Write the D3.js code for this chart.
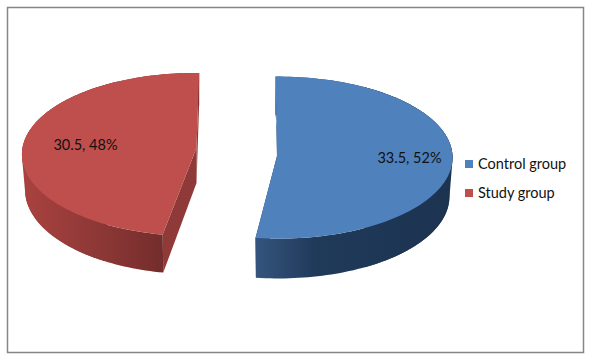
<!DOCTYPE html>
<html>
<head>
<meta charset="utf-8">
<script src="https://cdn.jsdelivr.net/npm/d3@7"></script>
<style>
html, body { margin: 0; padding: 0; background: #fff; }
svg { display: block; }
text { font-family: Lato, "Open Sans", sans-serif; }
</style>
</head>
<body>
<div id="plot"></div>
<script>
//Data
const categories = ['Control group', 'Study group'];
const values = [33.5, 30.5];
const percentLabels = ['52%', '48%'];

const w = 596, h = 364;
const plot = d3.select('#plot').append('svg').attr('width', w).attr('height', h);
const defs = plot.append('defs');

//Chart frame
plot.append('rect')
	.attr('x', 7.5).attr('y', 7.5)
	.attr('width', 576).attr('height', 345)
	.style('fill', '#fff')
	.style('stroke', '#868686')
	.style('stroke-width', 1.5);

//Slice geometry: each slice is exploded and has its own perspective
const layout = {
	'Control group': {cx: 278.5, cy: 156, rx: 174, ry: 81, p: 0.02, rot: -1, depth: 39, apexDx: -1.5, lowDx: 8, side: 90, labelX: 409.5, labelY: 163,
		top: '#4F81BD', cut: '#1F3A5C',
		wall: [[0, '#35547E'], [0.3, '#203A5A'], [1, '#1C3350']]},
	'Study group': {cx: 195, cy: 148, rx: 172.5, ry: 81, p: 0.08, rot: 1.5, depth: 35, apexDx: 1.5, lowDx: 0, side: 270, labelX: 85.5, labelY: 150,
		top: '#BE4F4C', cut: '#8F3A38',
		wall: [[0, '#A9423F'], [0.55, '#8D3836'], [1, '#742D2B']]}
};
const color = d3.scaleOrdinal().domain(categories).range(categories.map(c => layout[c].top));

const pie = d3.pie().sort(null);
const arcs = pie(values);
const deg = Math.PI / 180;

//Projects an angle on the pie rim, on the top or the bottom plane
function rimPoint(s, t, bottom){
	const u = Math.sin(t), v = -Math.cos(t);
	const d = 1 - s.p * v;
	const k = bottom ? 0.982 : 1;
	return [s.cx + k * s.rx * u / d, s.cy + s.ry * v / d + (bottom ? s.depth / d : 0)];
}

function rim(s, a0, a1, bottom){
	return d3.range(0, 121).map(i => rimPoint(s, a0 + (a1 - a0) * i / 120, bottom));
}

const line = d3.line();

categories.forEach((name, i) => {
	const s = layout[name];
	const a0 = arcs[i].startAngle + s.rot * deg;
	const a1 = arcs[i].endAngle + s.rot * deg;
	const g = plot.append('g').attr('class', 'slice');
	const apex = [s.cx + s.apexDx, s.cy];
	const apexLow = [s.cx + s.apexDx + s.lowDx, s.cy + s.depth];

	//Cut faces
	[a0, a1].forEach(a => {
		g.append('path')
			.attr('d', line([rimPoint(s, a), rimPoint(s, a, true), apexLow, apex]) + 'Z')
			.style('fill', s.cut);
	});

	//Outer wall
	const top = rim(s, a0, a1);
	const low = rim(s, a0, a1, true);
	const outline = top.concat(low.slice().reverse());
	const xExt = d3.extent(top.concat(low).filter(q => q[1] >= s.cy), q => q[0]);
	const gid = 'wall-' + i;
	const grad = defs.append('linearGradient')
		.attr('id', gid)
		.attr('gradientUnits', 'userSpaceOnUse')
		.attr('x1', i === 0 ? rimPoint(s, a1)[0] : xExt[0]).attr('x2', i === 0 ? xExt[1] : rimPoint(s, a0)[0])
		.attr('y1', 0).attr('y2', 0);
	s.wall.forEach(st => grad.append('stop').attr('offset', st[0]).attr('stop-color', st[1]));
	g.append('path')
		.attr('d', line(outline) + 'Z')
		.style('fill', `url(#${gid})`);

	//Silhouette of the wall around its widest point
	const sideA0 = (s.side - 60) * deg, sideA1 = (s.side + 60) * deg;
	const hull = d3.polygonHull(rim(s, sideA0, sideA1).concat(rim(s, sideA0, sideA1, true)));
	g.append('path')
		.attr('d', line(hull) + 'Z')
		.style('fill', `url(#${gid})`);

	//Top surface
	g.append('path')
		.attr('d', line(top.concat([apex])) + 'Z')
		.style('fill', s.top);

	//Data label
	plot.append('text')
		.attr('x', s.labelX).attr('y', s.labelY)
		.attr('text-anchor', 'middle')
		.style('font-size', '14.5px')
		.style('fill', '#111')
		.text(`${values[i]}, ${percentLabels[i]}`);
});

//Legend
const legendY = d3.scalePoint().domain(categories).range([164, 193]);
const legend = plot.selectAll('.legend')
	.data(categories)
	.enter()
	.append('g')
	.attr('class', 'legend')
	.attr('transform', d => `translate(465, ${legendY(d)})`);
legend.append('rect')
	.attr('x', 0).attr('y', -4)
	.attr('width', 8).attr('height', 8)
	.style('fill', d => color(d));
legend.append('text')
	.attr('x', 13).attr('y', 5)
	.style('font-size', '14.5px')
	.style('fill', '#111')
	.text(d => d);
</script>
</body>
</html>
